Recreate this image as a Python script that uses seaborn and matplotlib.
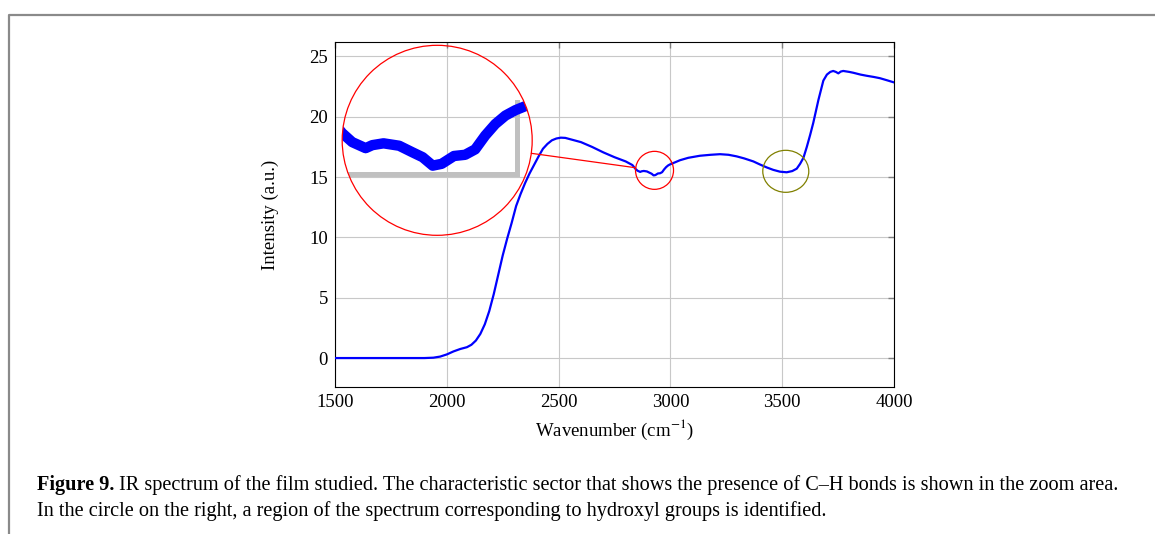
import numpy as np
import pandas as pd
import matplotlib
matplotlib.use("Agg")
import matplotlib.pyplot as plt
import seaborn as sns
from matplotlib.patches import Circle, Ellipse
from matplotlib.transforms import ScaledTranslation
from matplotlib.lines import Line2D

# ---------------- data ----------------
wavenumber = [1500, 1600, 1700, 1800, 1900, 1940, 1970, 2000, 2030, 2060, 2090, 2110,
              2130, 2150, 2170, 2190, 2210, 2230, 2250, 2270, 2290, 2310, 2330, 2350,
              2370, 2390, 2410, 2430, 2450, 2470, 2490, 2510, 2530, 2550, 2570, 2600,
              2650, 2700, 2750, 2800, 2830, 2844, 2853, 2865, 2871, 2881, 2895, 2907,
              2916, 2925, 2933, 2944, 2954, 2963, 2972, 2981, 2990, 2999, 3007, 3020,
              3043, 3080, 3132, 3180, 3222, 3260, 3296, 3330, 3371, 3400, 3431, 3460,
              3490, 3520, 3545, 3565, 3580, 3595, 3610, 3625, 3639, 3662, 3684, 3700,
              3715, 3728, 3740, 3751, 3762, 3773, 3800, 3818, 3850, 3878, 3910, 3937,
              3970, 4000]
intensity = [0.0, 0.0, 0.0, 0.0, 0.0, 0.03, 0.12, 0.3, 0.55, 0.75, 0.9, 1.1,
             1.45, 2.0, 2.8, 3.9, 5.3, 6.9, 8.5, 9.9, 11.2, 12.6, 13.6, 14.5,
             15.3, 16.0, 16.7, 17.35, 17.75, 18.05, 18.2, 18.27, 18.25, 18.15, 18.05, 17.9,
             17.5, 17.05, 16.65, 16.3, 16.0, 15.68, 15.53, 15.43, 15.48, 15.51, 15.47, 15.36,
             15.28, 15.14, 15.17, 15.30, 15.32, 15.41, 15.64, 15.83, 15.97, 16.06, 16.12, 16.22,
             16.4, 16.6, 16.77, 16.85, 16.9, 16.85, 16.72, 16.55, 16.3, 16.05, 15.8, 15.6,
             15.45, 15.4, 15.5, 15.7, 16.1, 16.6, 17.5, 18.5, 19.5, 21.4, 23.0, 23.5,
             23.72, 23.8, 23.72, 23.6, 23.75, 23.8, 23.72, 23.65, 23.5, 23.4, 23.3, 23.2,
             23.02, 22.85]

x_ticks = [1500, 2000, 2500, 3000, 3500, 4000]
y_ticks = [0, 5, 10, 15, 20, 25]

zoom_center = (2929, 15.56)      # C-H sector (small red circle)
lens_center = (1957, 18.05)      # magnified view (large red circle)
hydroxyl_center = (3516, 15.48)  # hydroxyl region (olive circle)
magnification = 5

xlabel = "Wavenumber (cm$^{-1}$)"
ylabel = "Intensity (a.u.)"
caption_bold = "Figure 9."
caption_line1 = " IR spectrum of the film studied. The characteristic sector that shows the presence of C\u2013H bonds is shown in the zoom area."
caption_line2 = "In the circle on the right, a region of the spectrum corresponding to hydroxyl groups is identified."

# ---------------- style ----------------
sns.set_theme(style="white")
plt.rcParams["font.family"] = ["Liberation Serif", "DejaVu Serif"]
plt.rcParams["mathtext.fontset"] = "stix"
plt.rcParams["text.color"] = "black"
plt.rcParams["axes.labelcolor"] = "black"
plt.rcParams["xtick.color"] = "black"
plt.rcParams["ytick.color"] = "black"

W, H = 1155, 534
fig = plt.figure(figsize=(W / 100, H / 100), dpi=100)
fig.patch.set_facecolor("white")

ax = fig.add_axes([335 / W, 1 - 387 / H, 559 / W, 345 / H])
df = pd.DataFrame({"wn": wavenumber, "I": intensity})
sns.lineplot(data=df, x="wn", y="I", ax=ax, color="blue", lw=1.6, zorder=3)
ax.set_xlim(1500, 4000)
ax.set_ylim(-2.4, 26.2)
ax.set_xticks(x_ticks)
ax.set_yticks(y_ticks)
ax.grid(True, color="#c8c8c8", lw=0.8)
ax.set_axisbelow(True)
ax.tick_params(direction="in", length=4, width=1, color="#7f7f7f",
               top=True, right=True, labelsize=13.5, pad=5, labelcolor="black")
for s in ax.spines.values():
    s.set_visible(True)
    s.set_color("black")
    s.set_linewidth(0.8)
ax.set_xlabel(xlabel, fontsize=13.5, labelpad=5)
ax.set_ylabel(ylabel, fontsize=13.5, labelpad=22)

# ---------------- zoom (spy) ----------------
to_disp = ax.transData.transform
lx, ly = to_disp(lens_center)
zx, zy = to_disp(zoom_center)
R = 95.0                    # lens radius in px
r = R / magnification       # spied region radius in px
sx = to_disp((1, 0))[0] - to_disp((0, 0))[0]
sy = to_disp((0, 1))[1] - to_disp((0, 0))[1]

ax_in = fig.add_axes([(lx - R) / W, (ly - R) / H, 2 * R / W, 2 * R / H])
ax_in.set_xlim(zoom_center[0] - r / sx, zoom_center[0] + r / sx)
ax_in.set_ylim(zoom_center[1] - r / sy, zoom_center[1] + r / sy)
ax_in.axis("off")
ax_in.patch.set_alpha(0)

x0 = ax_in.get_xlim()[0]
ax_in.plot([x0, 3000], [15, 15], color="#c0c0c0", lw=3.6,
           solid_capstyle="projecting", zorder=1)
ax_in.plot([3000, 3000], [15, 16.2], color="#c0c0c0", lw=3.6,
           solid_capstyle="projecting", zorder=1)
sns.lineplot(data=df, x="wn", y="I", ax=ax_in, color="blue", lw=7.5, zorder=3)
clip = Circle((0.5, 0.5), 0.5, transform=ax_in.transAxes)
for ln in ax_in.lines:
    ln.set_clip_path(clip)
ax_in.add_patch(Circle((0.5, 0.5), 0.5, transform=ax_in.transAxes, fill=False,
                       ec="red", lw=0.9, clip_on=False, zorder=5))

# small spy circle
small = Circle((0, 0), r / 100, fill=False, ec="red", lw=0.9, clip_on=False, zorder=5,
               transform=fig.dpi_scale_trans + ScaledTranslation(*zoom_center, ax.transData))
ax.add_patch(small)

# connecting line
d = np.array([zx - lx, zy - ly])
n = d / np.linalg.norm(d)
p1 = np.array([lx, ly]) + R * n
p2 = np.array([zx, zy]) - r * n
fig.add_artist(Line2D([p1[0] / W, p2[0] / W], [p1[1] / H, p2[1] / H],
                      transform=fig.transFigure, color="red", lw=0.9, zorder=6))

# hydroxyl circle
oh = Ellipse((0, 0), 0.46, 0.42, fill=False, ec="#808000", lw=0.9, clip_on=False, zorder=5,
             transform=fig.dpi_scale_trans + ScaledTranslation(*hydroxyl_center, ax.transData))
ax.add_patch(oh)

# ---------------- page frame ----------------
fig.add_artist(Line2D([9 / W, 9 / W, 1.0], [0.0, 1 - 15 / H, 1 - 15 / H],
                      transform=fig.transFigure, color="#8a8a8a", lw=1.6))

# ---------------- caption ----------------
renderer = fig.canvas.get_renderer()


def line_width(size):
    tb = fig.text(0, 0, caption_bold, fontsize=size, fontweight="bold")
    tr = fig.text(0, 0, caption_line1, fontsize=size)
    w = tb.get_window_extent(renderer).width + tr.get_window_extent(renderer).width
    tb.remove()
    tr.remove()
    return w


size = 13.0
size = size * 1079.0 / line_width(size)
tb = fig.text(37 / W, 1 - 490 / H, caption_bold, fontsize=size, fontweight="bold", va="baseline")
wb = tb.get_window_extent(renderer).width
fig.text((37 + wb) / W, 1 - 490 / H, caption_line1, fontsize=size, va="baseline")
fig.text(37 / W, 1 - 516 / H, caption_line2, fontsize=size, va="baseline")

fig.savefig("out.png", dpi=100, facecolor="white")
